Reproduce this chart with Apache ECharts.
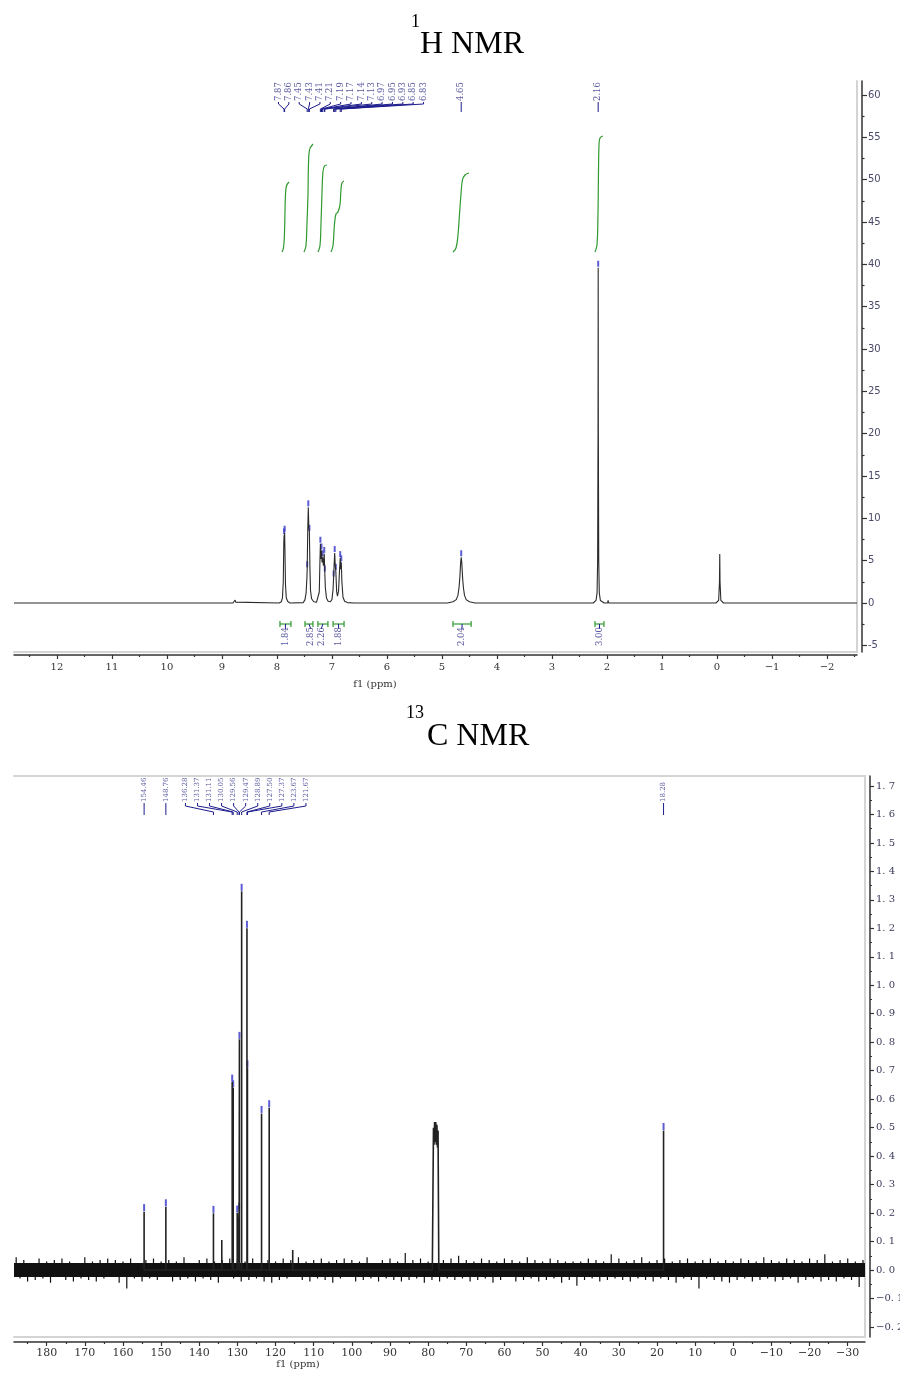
<!DOCTYPE html>
<html>
<head>
<meta charset="utf-8">
<script src="https://cdn.jsdelivr.net/npm/echarts@6/dist/echarts.min.js"></script>
<style>
html, body { margin: 0; padding: 0; background: #fff; }
#main { width: 900px; height: 1376px; }
</style>
</head>
<body>
<div id="main"></div>
<script>
// ---- 1H spectrum: [ppm, intensity]
var hTrace = [
  [12.78, 0], [8.80, 0], [8.77, 0.1], [8.76, 0.35], [8.75, 0.1], [8.72, 0],
  [7.96, 0], [7.92, 0.15], [7.90, 0.6], [7.885, 2.5], [7.875, 7.2], [7.87, 8.0], [7.865, 7.0], [7.86, 8.3], [7.855, 6.5], [7.845, 2.2], [7.83, 0.6], [7.80, 0.15], [7.76, 0],
  [7.52, 0.05], [7.49, 0.4], [7.47, 1.2], [7.455, 3.0], [7.45, 4.1], [7.44, 8.5], [7.43, 11.3], [7.42, 9.0], [7.41, 8.4], [7.40, 4.0], [7.39, 1.5], [7.37, 0.5], [7.33, 0.15], [7.28, 0.1],
  [7.25, 0.3], [7.23, 1.3], [7.22, 4.5], [7.21, 7.0], [7.20, 5.2], [7.19, 6.2], [7.18, 4.8], [7.17, 5.4], [7.155, 4.4], [7.14, 5.8], [7.13, 3.6], [7.12, 1.8], [7.10, 0.6], [7.07, 0.2], [7.03, 0.15],
  [7.00, 0.4], [6.98, 1.6], [6.97, 3.0], [6.96, 4.6], [6.95, 5.9], [6.94, 4.4], [6.93, 3.8], [6.915, 1.4], [6.90, 0.8], [6.88, 1.4], [6.865, 3.5], [6.85, 5.3], [6.84, 4.0], [6.83, 4.8], [6.82, 2.6], [6.80, 0.7], [6.77, 0.2], [6.72, 0.05], [6.60, 0],
  [4.90, 0], [4.80, 0.15], [4.74, 0.4], [4.71, 0.9], [4.69, 1.8], [4.675, 3.0], [4.66, 4.8], [4.65, 5.4], [4.64, 4.8], [4.625, 3.0], [4.61, 1.8], [4.59, 0.9], [4.56, 0.4], [4.50, 0.15], [4.40, 0],
  [2.25, 0], [2.20, 0.3], [2.18, 1.2], [2.17, 5], [2.163, 20], [2.16, 39.6], [2.157, 20], [2.15, 5], [2.14, 1.2], [2.12, 0.3], [2.05, 0], [1.99, 0], [1.98, 0.3], [1.97, 0],
  [0.02, 0], [-0.03, 0.3], [-0.045, 2.5], [-0.05, 5.8], [-0.055, 2.5], [-0.07, 0.3], [-0.12, 0], [-2.545, 0]
];
var hPeakPpm = [7.87, 7.86, 7.45, 7.43, 7.41, 7.21, 7.19, 7.17, 7.14, 7.13, 6.97, 6.95, 6.93, 6.85, 6.83, 4.65, 2.16];
var hPeakTop = [8.0, 8.3, 4.1, 11.3, 8.4, 7.0, 6.2, 5.4, 5.8, 3.6, 3.0, 5.9, 3.8, 5.3, 4.8, 5.4, 39.6];
var hIntFrom = [7.945, 7.49, 7.255, 6.98, 4.80, 2.218];
var hIntTo = [7.745, 7.345, 7.073, 6.78, 4.47, 2.055];
var hIntValue = ['1.84', '2.85', '2.26', '1.88', '2.04', '3.00'];
var hInt1 = [[7.909, 41.45], [7.882, 41.93], [7.864, 43.46], [7.855, 45.82], [7.845, 48.19], [7.827, 49.25], [7.782, 49.72]];
var hInt2 = [[7.509, 41.45], [7.473, 42.16], [7.455, 44.64], [7.436, 48.19], [7.427, 51.73], [7.409, 53.5], [7.345, 54.21]];
var hInt3 = [[7.255, 41.45], [7.218, 42.16], [7.2, 44.64], [7.182, 48.19], [7.164, 50.9], [7.136, 51.61], [7.091, 51.73]];
var hInt4 = [[7.018, 41.45], [6.982, 42.16], [6.955, 44.64], [6.927, 45.94], [6.891, 46.18], [6.855, 47.0], [6.836, 48.78], [6.818, 49.6], [6.782, 49.84]];
var hInt5 = [[4.8, 41.45], [4.745, 41.93], [4.709, 43.46], [4.682, 45.82], [4.655, 48.19], [4.627, 49.96], [4.582, 50.55], [4.509, 50.78]];
var hInt6 = [[2.218, 41.45], [2.182, 42.28], [2.164, 45.82], [2.155, 50.55], [2.145, 54.09], [2.127, 54.92], [2.073, 55.16]];
var hXTicks = [12, 11, 10, 9, 8, 7, 6, 5, 4, 3, 2, 1, 0, -1, -2];
var hXMinor = [12.5, 11.5, 10.5, 9.5, 8.5, 7.5, 6.5, 5.5, 4.5, 3.5, 2.5, 1.5, 0.5, -0.5, -1.5, -2.5];
var hYTicks = [-5, 0, 5, 10, 15, 20, 25, 30, 35, 40, 45, 50, 55, 60];
var hYMinor = [-2.5, 2.5, 7.5, 12.5, 17.5, 22.5, 27.5, 32.5, 37.5, 42.5, 47.5, 52.5, 57.5];

// ---- 13C spectrum
var cPeakPpm = [154.46, 148.76, 136.28, 131.37, 131.11, 130.05, 129.56, 129.47, 128.89, 127.50, 127.37, 123.67, 121.67, 18.28];
var cPeakTop = [0.205, 0.222, 0.199, 0.66, 0.64, 0.20, 0.21, 0.81, 1.33, 1.20, 0.71, 0.55, 0.57, 0.49];
var cOtherPpm = [134.1, 115.5];
var cOtherTop = [0.105, 0.07];
var cSolvent = [[78.9, 0], [78.6, 0.50], [78.45, 0.44], [78.3, 0.52], [78.15, 0.45], [78.0, 0.52], [77.85, 0.44], [77.7, 0.51], [77.55, 0.43], [77.4, 0.49], [77.2, 0]];
// noise hairs around the baseline, one per ppm from 188 down to -34
var cNoiseStart = 188, cNoiseStep = 1;
var cNoise = [
  0.045, -0.03, 0.035, -0.04, 0.025, -0.035, 0.04, -0.03, 0.03, -0.045, 0.035, -0.025, 0.04, -0.035, 0.03, -0.04, 0.025, -0.03, 0.045, -0.035,
  0.03, -0.04, 0.035, -0.03, 0.04, -0.025, 0.035, -0.045, 0.03, -0.065, 0.04, -0.03, 0.025, -0.04, 0.035, -0.03, 0.04, -0.035, 0.03, -0.025,
  0.035, -0.04, 0.03, -0.035, 0.045, -0.03, 0.025, -0.04, 0.035, -0.03, 0.04, -0.035, 0.03, -0.045, 0.035, -0.025, 0.04, -0.03, 0.035, -0.04,
  0.03, -0.035, 0.04, -0.03, 0.025, -0.04, 0.035, -0.045, 0.03, -0.035, 0.04, -0.03, 0.035, -0.025, 0.045, -0.035, 0.03, -0.04, 0.035, -0.03,
  0.04, -0.035, 0.03, -0.045, 0.035, -0.03, 0.04, -0.025, 0.035, -0.04, 0.03, -0.035, 0.045, -0.03, 0.025, -0.04, 0.035, -0.03, 0.04, -0.035,
  0.03, -0.04, 0.06, -0.035, 0.035, -0.03, 0.04, -0.045, 0.03, -0.035, 0.025, -0.04, 0.035, -0.03, 0.04, -0.035, 0.05, -0.03, 0.035, -0.04,
  0.03, -0.035, 0.04, -0.03, 0.035, -0.045, 0.03, -0.035, 0.04, -0.025, 0.035, -0.04, 0.03, -0.035, 0.045, -0.03, 0.035, -0.04, 0.03, -0.035,
  0.04, -0.03, 0.035, -0.045, 0.03, -0.035, 0.03, -0.055, 0.03, -0.035, 0.04, -0.03, 0.035, -0.04, 0.03, -0.035, 0.055, -0.03, 0.04, -0.035,
  0.03, -0.04, 0.035, -0.03, 0.045, -0.035, 0.03, -0.04, 0.035, -0.03, 0.04, -0.035, 0.03, -0.045, 0.035, -0.03, 0.04, -0.035, 0.03, -0.065,
  0.035, -0.03, 0.04, -0.035, 0.03, -0.04, 0.035, -0.045, 0.03, -0.035, 0.04, -0.03, 0.035, -0.04, 0.03, -0.035, 0.045, -0.03, 0.035, -0.04,
  0.03, -0.035, 0.04, -0.03, 0.035, -0.045, 0.03, -0.035, 0.04, -0.03, 0.035, -0.04, 0.055, -0.035, 0.03, -0.04, 0.035, -0.03, 0.04, -0.035,
  0.03, -0.06, 0.035
];
var cXTicks = [190, 180, 170, 160, 150, 140, 130, 120, 110, 100, 90, 80, 70, 60, 50, 40, 30, 20, 10, 0, -10, -20, -30];
var cXLabels = [180, 170, 160, 150, 140, 130, 120, 110, 100, 90, 80, 70, 60, 50, 40, 30, 20, 10, 0, -10, -20, -30];
var cXMinor = [185, 175, 165, 155, 145, 135, 125, 115, 105, 95, 85, 75, 65, 55, 45, 35, 25, 15, 5, -5, -15, -25];
var cYTicks = [-0.2, -0.1, 0, 0.1, 0.2, 0.3, 0.4, 0.5, 0.6, 0.7, 0.8, 0.9, 1.0, 1.1, 1.2, 1.3, 1.4, 1.5, 1.6, 1.7];
var cYMinor = [-0.15, -0.05, 0.05, 0.15, 0.25, 0.35, 0.45, 0.55, 0.65, 0.75, 0.85, 0.95, 1.05, 1.15, 1.25, 1.35, 1.45, 1.55, 1.65];

// axis ranges (picture frame edges)
var hXMin = -2.545, hXMax = 12.78, hYMin = -5.787, hYMax = 61.65;
var cXMin = -34.53, cXMax = 188.57, cYMin = -0.2353, cYMax = 1.735;

var NAVY = '#1c1c8c', LBL = '#5a5aa2', GREEN = '#2f9a2f', MARK = '#3434c8';

function spread(px, gap, minDist, shift) {
  var cl = px.map(function (p, i) { return { s: i, e: i, c: p }; });
  var merged = true;
  while (merged) {
    merged = false;
    for (var k = 0; k < cl.length - 1; k++) {
      var a = cl[k], b = cl[k + 1];
      if (a.c + (a.e - a.s) * gap / 2 + minDist > b.c - (b.e - b.s) * gap / 2) {
        var sum = 0;
        for (var j = a.s; j <= b.e; j++) sum += px[j];
        cl.splice(k, 2, { s: a.s, e: b.e, c: sum / (b.e - a.s + 1) });
        merged = true;
        break;
      }
    }
  }
  var out = [];
  cl.forEach(function (g) {
    var n = g.e - g.s + 1;
    for (var j = 0; j < n; j++) out.push(g.c - (n - 1) * gap / 2 + j * gap + (n > 1 ? shift : 0));
  });
  return out;
}

function peakLabelSeries(xi, yi, ppm, o) {
  return {
    type: 'custom', xAxisIndex: xi, yAxisIndex: yi, silent: true,
    data: [[0, 0]],
    renderItem: function (params, api) {
      var top = params.coordSys.y;
      var px = ppm.map(function (p) { return api.coord([p, 0])[0]; });
      var lx = spread(px, o.gap, o.minDist, o.shift);
      var ch = [];
      for (var i = 0; i < ppm.length; i++) {
        ch.push({
          type: 'polyline',
          shape: { points: [[lx[i], top + o.a], [lx[i], top + o.b], [px[i], top + o.c], [px[i], top + o.d]] },
          style: { stroke: NAVY, lineWidth: 1, fill: null }
        });
        ch.push({
          type: 'text', x: lx[i], y: top + o.a - 1, rotation: Math.PI / 2,
          style: { text: ppm[i].toFixed(2), textAlign: 'left', textVerticalAlign: 'middle', fill: LBL, font: o.font }
        });
      }
      return { type: 'group', children: ch };
    }
  };
}

var intLabelSeries = {
  type: 'custom', xAxisIndex: 1, yAxisIndex: 1, silent: true,
  data: [[0, 0]],
  renderItem: function (params, api) {
    var bot = params.coordSys.y + params.coordSys.height;
    var x0 = hIntFrom.map(function (p) { return api.coord([p, 0])[0]; });
    var x1 = hIntTo.map(function (p) { return api.coord([p, 0])[0]; });
    var cx = x0.map(function (v, i) { return (v + x1[i]) / 2; });
    var lx = spread(cx, 11, 15, 0);
    var by = bot - 28;
    var ch = [];
    for (var i = 0; i < cx.length; i++) {
      ch.push({ type: 'line', shape: { x1: x0[i], y1: by, x2: x1[i], y2: by }, style: { stroke: GREEN, lineWidth: 1.2 } });
      ch.push({ type: 'line', shape: { x1: x0[i], y1: by - 3, x2: x0[i], y2: by + 3 }, style: { stroke: GREEN, lineWidth: 1.2 } });
      ch.push({ type: 'line', shape: { x1: x1[i], y1: by - 3, x2: x1[i], y2: by + 3 }, style: { stroke: GREEN, lineWidth: 1.2 } });
      ch.push({ type: 'polyline', shape: { points: [[cx[i], by], [lx[i], by + 4], [lx[i], by + 5]] }, style: { stroke: NAVY, lineWidth: 1, fill: null } });
      ch.push({
        type: 'text', x: lx[i], y: bot - 6, rotation: Math.PI / 2,
        style: { text: hIntValue[i], textAlign: 'left', textVerticalAlign: 'middle', fill: LBL, font: '8.5px "DejaVu Serif"' }
      });
    }
    return { type: 'group', children: ch };
  }
};

function spikes(ppm, top) {
  var d = [];
  ppm.forEach(function (p, i) { d.push([p, 0], [p, top[i]], [p, 0]); });
  return d;
}

var cPeakData = spikes(cPeakPpm, cPeakTop).concat(spikes(cOtherPpm, cOtherTop)).concat(cSolvent);
cPeakData.sort(function (a, b) { return b[0] - a[0]; });
var cNoisePpm = cNoise.map(function (v, i) { return cNoiseStart - i * cNoiseStep; });
var cNoiseData = spikes(cNoisePpm, cNoise);

function minusFmt(v) { return v < 0 ? '\u2212' + Math.abs(v) : String(v); }

function frameAxis(grid, min, max, pos, inverse) {
  return {
    gridIndex: grid, type: 'value', min: min, max: max, inverse: !!inverse, position: pos, offset: 0,
    axisLine: { onZero: false, lineStyle: { color: '#d4d4d4', width: 2 } },
    axisTick: { show: false }, axisLabel: { show: false }, splitLine: { show: false }
  };
}
function tickAxis(grid, min, max, pos, inverse, off, ticks, len, label) {
  return {
    gridIndex: grid, type: 'value', min: min, max: max, inverse: !!inverse, position: pos, offset: off,
    axisLine: { show: !!label, onZero: false, lineStyle: { color: '#333', width: 1.5 } },
    axisTick: { show: true, customValues: ticks, length: len, lineStyle: { color: '#333', width: 1.2 } },
    axisLabel: label ? label : { show: false },
    splitLine: { show: false }
  };
}

var chart = echarts.init(document.getElementById('main'));
var option = {
  animation: false,
  backgroundColor: '#fff',
  grid: [
    { left: 14, top: 81, width: 843, height: 571, outerBoundsMode: 'none', containLabel: false },
    { left: 14, top: 776, width: 851, height: 561, outerBoundsMode: 'none', containLabel: false }
  ],
  xAxis: [
    frameAxis(0, hXMin, hXMax, 'bottom', true),
    tickAxis(0, hXMin, hXMax, 'bottom', true, 3, hXTicks, 4, {
      customValues: hXTicks, margin: 7, color: '#333', fontFamily: 'DejaVu Serif', fontSize: 10, formatter: minusFmt
    }),
    tickAxis(0, hXMin, hXMax, 'bottom', true, 3, hXMinor, 2, null),
    frameAxis(1, cXMin, cXMax, 'bottom', true),
    tickAxis(1, cXMin, cXMax, 'bottom', true, 5, cXTicks, 4, {
      customValues: cXLabels, margin: 6, color: '#333', fontFamily: 'DejaVu Serif', fontSize: 11, formatter: minusFmt
    }),
    tickAxis(1, cXMin, cXMax, 'bottom', true, 5, cXMinor, 2, null),
    frameAxis(1, cXMin, cXMax, 'top', true)
  ],
  yAxis: [
    frameAxis(0, hYMin, hYMax, 'right'),
    tickAxis(0, hYMin, hYMax, 'right', false, 5, hYTicks, 5, {
      customValues: hYTicks, margin: 6, color: '#4a4a6a', fontFamily: 'DejaVu Sans', fontSize: 10
    }),
    tickAxis(0, hYMin, hYMax, 'right', false, 5, hYMinor, 2.5, null),
    frameAxis(1, cYMin, cYMax, 'right'),
    tickAxis(1, cYMin, cYMax, 'right', false, 5, cYTicks, 4, {
      customValues: cYTicks, margin: 6, color: '#3a3a5a', fontFamily: 'DejaVu Serif', fontSize: 10,
      formatter: function (v) { return (v < -1e-9 ? '\u2212' : '') + Math.abs(v).toFixed(1).replace('.', '. '); }
    }),
    tickAxis(1, cYMin, cYMax, 'right', false, 5, cYMinor, 2, null)
  ],
  graphic: { elements: [
    { type: 'text', x: 411, y: 22, style: { text: '1', font: '18px "Liberation Serif"', fill: '#000', textAlign: 'left', textVerticalAlign: 'middle' } },
    { type: 'text', x: 420, y: 45, style: { text: 'H NMR', font: '32px "Liberation Serif"', fill: '#000', textAlign: 'left', textVerticalAlign: 'middle' } },
    { type: 'text', x: 375, y: 684, style: { text: 'f1 (ppm)', font: '10px "DejaVu Serif"', fill: '#333', textAlign: 'center', textVerticalAlign: 'middle' } },
    { type: 'text', x: 406, y: 713, style: { text: '13', font: '18px "Liberation Serif"', fill: '#000', textAlign: 'left', textVerticalAlign: 'middle' } },
    { type: 'text', x: 427, y: 737, style: { text: 'C NMR', font: '32px "Liberation Serif"', fill: '#000', textAlign: 'left', textVerticalAlign: 'middle' } },
    { type: 'text', x: 298, y: 1364, style: { text: 'f1 (ppm)', font: '10px "DejaVu Serif"', fill: '#333', textAlign: 'center', textVerticalAlign: 'middle' } }
  ] },
  series: [
    { type: 'line', xAxisIndex: 1, yAxisIndex: 1, data: hTrace, showSymbol: false, silent: true,
      lineStyle: { color: '#2b2b2b', width: 1.1 } },
    { type: 'scatter', xAxisIndex: 1, yAxisIndex: 1, silent: true, symbol: 'rect', symbolSize: [2, 6], symbolOffset: [0, -4],
      itemStyle: { color: MARK }, data: hPeakPpm.map(function (p, i) { return [p, hPeakTop[i]]; }) }
  ].concat([hInt1, hInt2, hInt3, hInt4, hInt5, hInt6].map(function (d) {
    return { type: 'line', xAxisIndex: 1, yAxisIndex: 1, data: d, smooth: 0.4, showSymbol: false, silent: true,
      lineStyle: { color: GREEN, width: 1.2 } };
  })).concat([
    peakLabelSeries(1, 1, hPeakPpm, { gap: 10.36, minDist: 10.36, shift: 31.5, a: 21, b: 23, c: 28, d: 31, font: '8.5px "DejaVu Serif"' }),
    intLabelSeries,
    { type: 'line', xAxisIndex: 4, yAxisIndex: 4, data: [[cXMax, 0], [cXMin, 0]], showSymbol: false, silent: true,
      lineStyle: { color: '#111', width: 14 } },
    { type: 'line', xAxisIndex: 4, yAxisIndex: 4, data: cNoiseData, showSymbol: false, silent: true,
      lineStyle: { color: '#111', width: 1.2 } },
    { type: 'line', xAxisIndex: 4, yAxisIndex: 4, data: cPeakData, showSymbol: false, silent: true,
      lineStyle: { color: '#222', width: 1.6 } },
    { type: 'scatter', xAxisIndex: 4, yAxisIndex: 4, silent: true, symbol: 'rect', symbolSize: [2, 7], symbolOffset: [0, -4],
      itemStyle: { color: MARK }, data: cPeakPpm.map(function (p, i) { return [p, cPeakTop[i]]; }) },
    peakLabelSeries(4, 4, cPeakPpm, { gap: 12.05, minDist: 8, shift: 3.75, a: 27, b: 30, c: 36, d: 39, font: '7px "DejaVu Serif"' })
  ])
};
chart.setOption(option);
</script>
</body>
</html>
